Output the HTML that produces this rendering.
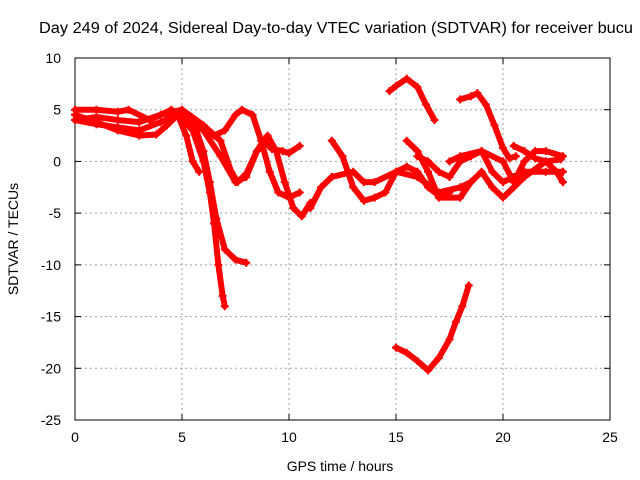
<!DOCTYPE html>
<html><head><meta charset="utf-8"><style>
body{margin:0;background:#fff}
svg{display:block;font-family:"Liberation Sans",sans-serif}
</style></head><body>
<svg id="chart" width="640" height="480" viewBox="0 0 640 480">
<rect x="0" y="0" width="640" height="480" fill="#fff"/>
<g id="grid"></g>
<g id="axes"></g>
<g id="series"></g>
<text x="39" y="33" font-size="15.5" textLength="594" lengthAdjust="spacingAndGlyphs">Day 249 of 2024, Sidereal Day-to-day VTEC variation (SDTVAR) for receiver bucu</text>
<text x="340" y="471" font-size="14" text-anchor="middle">GPS time / hours</text>
<text x="18" y="239" font-size="14" text-anchor="middle" transform="rotate(-90 18 239)">SDTVAR / TECUs</text>
</svg>
<script>
const xTicks=[0,5,10,15,20,25];
const yTicks=[10,5,0,-5,-10,-15,-20,-25];
const track1=[[0,4.5],[1,3.8],[2,3],[3,2.5],[3.8,2.6],[4.3,3.5],[4.8,4.5],[5.2,2.5],[5.5,0],[5.8,-1]];
const track2=[[0,4],[1,3.6],[2,3.3],[3,3],[4,3.8],[4.8,4.5],[5.5,3],[6,0],[6.3,-3],[6.5,-6],[6.7,-10],[6.9,-13],[7,-14]];
const track3=[[0,5],[1,5],[2,4.8],[2.5,5],[3.5,4],[4.5,5],[5.5,4],[6,1],[6.3,-2],[6.6,-5.5],[7,-8.5],[7.5,-9.5],[8,-9.8]];
const track4=[[0,4],[1,4.3],[2,4],[3,3.8],[4,4.5],[5,5],[6,3.5],[6.8,2],[7.3,-1],[7.6,-2],[8,-1.2],[8.5,1],[9,2.5],[9.4,1],[9.8,-2],[10.2,-4.5],[10.6,-5.3],[11,-4]];
const track5=[[5,4.5],[6,3],[6.5,2.5],[7,3],[7.5,4.5],[7.8,5],[8.3,4.5],[8.7,2],[9.1,-1],[9.5,-3],[10,-3.5],[10.5,-3]];
const track6=[[6,3],[6.8,0.5],[7.5,-2],[8,-1.5],[8.5,1],[8.8,2],[9.2,1.2],[9.7,1],[10,0.8],[10.5,1.5]];
const track7=[[11,-4.5],[11.5,-2.5],[12,-1.5],[13,-1],[13.5,-2],[14,-2],[15,-1],[16,-1.5],[17,-3],[18,-2.5],[18.5,-2]];
const track8=[[12,2],[12.5,0.5],[13,-2.5],[13.5,-3.8],[14,-3.5],[14.5,-3],[15,-1],[15.5,-0.5],[16,-1],[16.5,-2.5],[17,-3.3],[17.5,-3]];
const track9=[[14.7,6.8],[15,7.3],[15.5,8],[16,7.2],[16.4,5.5],[16.8,4]];
const track10=[[15,-18],[15.5,-18.5],[16,-19.3],[16.5,-20.2],[17,-19],[17.5,-17.2],[17.8,-15.5],[18.1,-14],[18.4,-12]];
const track11=[[18,6],[18.5,6.3],[18.8,6.6],[19.2,5.5],[19.6,3.5],[20,1.3],[20.3,0.3],[20.6,0.5]];
const track12=[[15.5,2],[16,1],[16.5,-1],[17,-3.5],[18,-3.5],[18.5,-2],[19,-1],[19.5,-2.5],[20,-3.5],[20.5,-2.5],[21,-1.5],[22,0],[22.7,0.2]];
const track13=[[16,0.5],[16.5,0],[17,-1],[17.5,-1.5],[18,0],[18.5,0.5],[19,1],[19.5,-1],[20,-2],[20.5,-1.5],[21,-1],[22,-1],[22.8,-1]];
const track14=[[17.5,0],[18,0.5],[19,1],[20,0],[20.5,-2],[21,0],[21.5,1],[22,1],[22.8,0.5]];
const track15=[[20.5,1.5],[21,1],[21.5,0.3],[22,0],[22.5,-1],[22.8,-2]];
const tracks=[track1,track2,track3,track4,track5,track6,track7,track8,track9,track10,track11,track12,track13,track14,track15];

const X0=75,X1=610,Y0=58,Y1=420;
const sx=v=>X0+(v-0)/(25-0)*(X1-X0);
const sy=v=>Y0+(10-v)/(10-(-25))*(Y1-Y0);
const NS="http://www.w3.org/2000/svg";
function mk(tag,attrs,parent){const e=document.createElementNS(NS,tag);for(const k in attrs)e.setAttribute(k,attrs[k]);parent.appendChild(e);return e;}
const grid=document.getElementById('grid'),axes=document.getElementById('axes'),series=document.getElementById('series');
xTicks.forEach(t=>{
  const x=sx(t);
  if(t>0&&t<25){const l=mk('line',{x1:x,x2:x,y1:Y0,y2:Y1,stroke:'#a0a0a0','stroke-dasharray':'2,3','stroke-width':1},grid);
  
  }
  mk('line',{x1:x,x2:x,y1:Y1,y2:Y1-6,stroke:'#000'},axes);
  mk('line',{x1:x,x2:x,y1:Y0,y2:Y0+6,stroke:'#000'},axes);
  const tx=mk('text',{x:x,y:Y1+22,'font-size':14,'text-anchor':'middle'},axes);tx.textContent=t;
  
  
});
yTicks.forEach(t=>{
  const y=sy(t);
  if(t>-25&&t<10){const l=mk('line',{x1:X0,x2:X1,y1:y,y2:y,stroke:'#a0a0a0','stroke-dasharray':'2,3','stroke-width':1},grid);
  
  }
  mk('line',{x1:X0,x2:X0+6,y1:y,y2:y,stroke:'#000'},axes);
  mk('line',{x1:X1,x2:X1-6,y1:y,y2:y,stroke:'#000'},axes);
  const tx=mk('text',{x:X0-14,y:y+5,'font-size':14,'text-anchor':'end'},axes);tx.textContent=t;
  
  
});
mk('rect',{x:X0,y:Y0,width:X1-X0,height:Y1-Y0,fill:'none',stroke:'#000'},axes);
tracks.forEach(tr=>{
  const pl=mk('polyline',{points:tr.map(p=>sx(p[0])+','+sy(p[1])).join(' '),fill:'none',stroke:'#ff0000','stroke-width':6,'stroke-linejoin':'round','stroke-linecap':'round'},series);
  
  
  tr.forEach(p=>{
    const x=sx(p[0]),y=sy(p[1]);
    const m=mk('path',{d:`M${x-4},${y}H${x+4}M${x},${y-4}V${y+4}`,stroke:'#ff0000','stroke-width':2},series);
    
    
  });
});
</script>
</body></html>
